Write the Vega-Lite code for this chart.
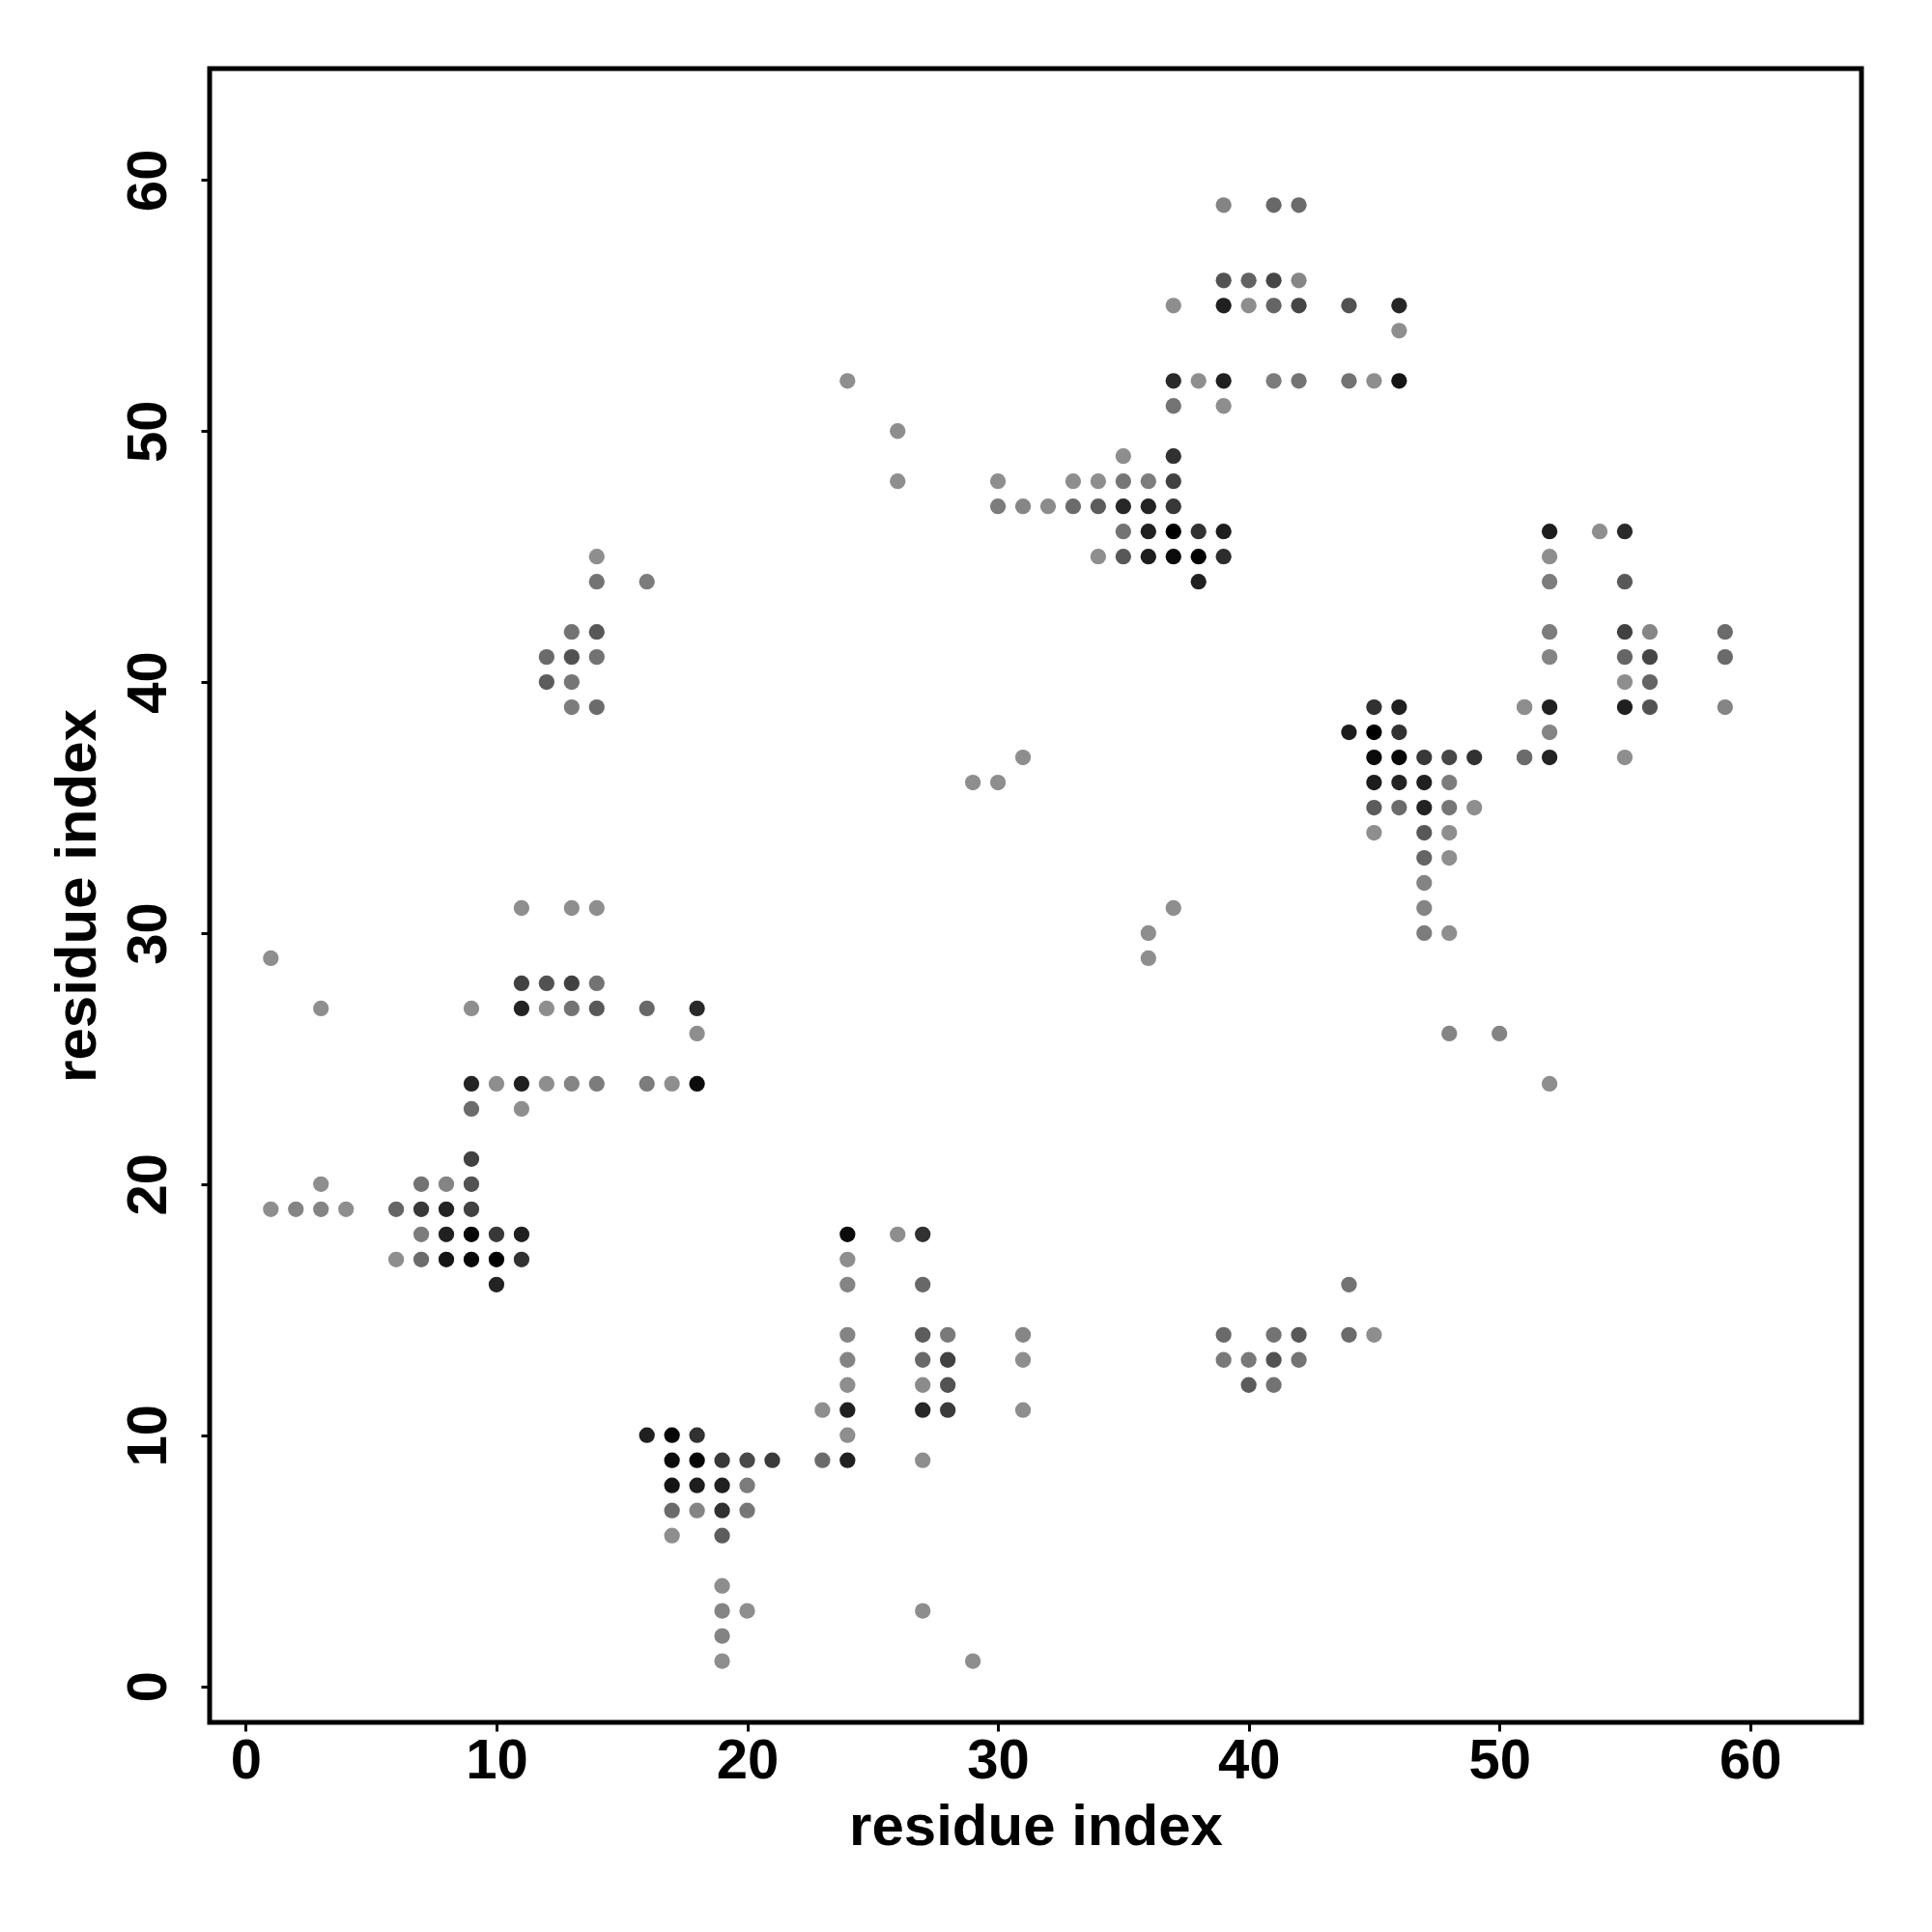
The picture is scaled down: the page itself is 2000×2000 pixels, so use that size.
{
  "$schema": "https://vega.github.io/schema/vega-lite/v6.json",
  "width": 1710,
  "height": 1712,
  "autosize": {"type": "none"},
  "padding": {"left": 217, "top": 71, "right": 73, "bottom": 217},
  "background": "white",
  "config": {
    "view": {"stroke": "black", "strokeWidth": 5},
    "axis": {
      "domain": false, "grid": false,
      "ticks": true, "tickColor": "black", "tickWidth": 3, "tickSize": 9,
      "labelFont": "Liberation Sans", "labelFontWeight": "bold", "labelFontSize": 58, "labelColor": "black",
      "titleFont": "Liberation Sans", "titleFontWeight": "bold", "titleFontSize": 60, "titleColor": "black"
    }
  },
  "data": {"values": [
    {"i":11,"j":31,"p":0.05},{"i":13,"j":31,"p":0.05},{"i":14,"j":31,"p":0.05},
    {"i":1,"j":29,"p":0.05},
    {"i":11,"j":28,"p":0.56},{"i":12,"j":28,"p":0.44},{"i":13,"j":28,"p":0.56},{"i":14,"j":28,"p":0.22},
    {"i":3,"j":27,"p":0.05},{"i":9,"j":27,"p":0.05},{"i":11,"j":27,"p":0.78},{"i":12,"j":27,"p":0.05},{"i":13,"j":27,"p":0.22},{"i":14,"j":27,"p":0.40},{"i":16,"j":27,"p":0.29},{"i":18,"j":27,"p":0.73},
    {"i":18,"j":26,"p":0.05},
    {"i":9,"j":24,"p":0.78},{"i":10,"j":24,"p":0.05},{"i":11,"j":24,"p":0.8},{"i":12,"j":24,"p":0.05},{"i":13,"j":24,"p":0.11},{"i":14,"j":24,"p":0.16},{"i":16,"j":24,"p":0.16},{"i":17,"j":24,"p":0.05},{"i":18,"j":24,"p":0.95},
    {"i":9,"j":23,"p":0.27},{"i":11,"j":23,"p":0.05},
    {"i":9,"j":21,"p":0.56},
    {"i":3,"j":20,"p":0.05},{"i":7,"j":20,"p":0.22},{"i":8,"j":20,"p":0.11},{"i":9,"j":20,"p":0.44},
    {"i":1,"j":19,"p":0.05},{"i":2,"j":19,"p":0.11},{"i":3,"j":19,"p":0.11},{"i":4,"j":19,"p":0.05},{"i":6,"j":19,"p":0.31},{"i":7,"j":19,"p":0.62},{"i":8,"j":19,"p":0.78},{"i":9,"j":19,"p":0.56},
    {"i":7,"j":18,"p":0.16},{"i":8,"j":18,"p":0.8},{"i":9,"j":18,"p":0.97},{"i":10,"j":18,"p":0.62},{"i":11,"j":18,"p":0.8},
    {"i":6,"j":17,"p":0.05},{"i":7,"j":17,"p":0.27},{"i":8,"j":17,"p":0.89},{"i":9,"j":17,"p":0.97},{"i":10,"j":17,"p":1.0},{"i":11,"j":17,"p":0.67},
    {"i":10,"j":16,"p":0.78},
    {"i":14,"j":45,"p":0.05},{"i":14,"j":44,"p":0.22},{"i":16,"j":44,"p":0.16},{"i":13,"j":42,"p":0.22},{"i":14,"j":42,"p":0.40},{"i":12,"j":41,"p":0.27},{"i":13,"j":41,"p":0.44},{"i":14,"j":41,"p":0.22},{"i":12,"j":40,"p":0.37},{"i":13,"j":40,"p":0.2},{"i":13,"j":39,"p":0.16},{"i":14,"j":39,"p":0.27},
    {"i":24,"j":18,"p":0.95},{"i":26,"j":18,"p":0.05},{"i":27,"j":18,"p":0.67},
    {"i":24,"j":17,"p":0.05},
    {"i":24,"j":16,"p":0.11},{"i":27,"j":16,"p":0.29},
    {"i":24,"j":14,"p":0.11},{"i":27,"j":14,"p":0.37},{"i":28,"j":14,"p":0.18},{"i":31,"j":14,"p":0.1},
    {"i":24,"j":13,"p":0.11},{"i":27,"j":13,"p":0.29},{"i":28,"j":13,"p":0.56},{"i":31,"j":13,"p":0.05},
    {"i":24,"j":12,"p":0.05},{"i":27,"j":12,"p":0.07},{"i":28,"j":12,"p":0.44},
    {"i":23,"j":11,"p":0.05},{"i":24,"j":11,"p":0.8},{"i":27,"j":11,"p":0.75},{"i":28,"j":11,"p":0.6},{"i":31,"j":11,"p":0.05},
    {"i":16,"j":10,"p":0.8},{"i":17,"j":10,"p":0.97},{"i":18,"j":10,"p":0.67},{"i":24,"j":10,"p":0.05},
    {"i":17,"j":9,"p":0.95},{"i":18,"j":9,"p":0.97},{"i":19,"j":9,"p":0.62},{"i":20,"j":9,"p":0.5},{"i":21,"j":9,"p":0.6},{"i":23,"j":9,"p":0.27},{"i":24,"j":9,"p":0.8},{"i":27,"j":9,"p":0.05},
    {"i":17,"j":8,"p":0.89},{"i":18,"j":8,"p":0.83},{"i":19,"j":8,"p":0.8},{"i":20,"j":8,"p":0.16},
    {"i":17,"j":7,"p":0.27},{"i":18,"j":7,"p":0.11},{"i":19,"j":7,"p":0.67},{"i":20,"j":7,"p":0.2},
    {"i":17,"j":6,"p":0.05},{"i":19,"j":6,"p":0.37},
    {"i":19,"j":4,"p":0.05},
    {"i":19,"j":3,"p":0.11},{"i":20,"j":3,"p":0.05},{"i":27,"j":3,"p":0.05},
    {"i":19,"j":2,"p":0.11},
    {"i":19,"j":1,"p":0.05},{"i":29,"j":1,"p":0.05},
    {"i":24,"j":52,"p":0.05},
    {"i":26,"j":50,"p":0.05},
    {"i":35,"j":49,"p":0.05},{"i":37,"j":49,"p":0.67},
    {"i":26,"j":48,"p":0.05},{"i":30,"j":48,"p":0.05},{"i":33,"j":48,"p":0.05},{"i":34,"j":48,"p":0.05},{"i":35,"j":48,"p":0.2},{"i":36,"j":48,"p":0.16},{"i":37,"j":48,"p":0.56},
    {"i":30,"j":47,"p":0.16},{"i":31,"j":47,"p":0.1},{"i":32,"j":47,"p":0.07},{"i":33,"j":47,"p":0.27},{"i":34,"j":47,"p":0.37},{"i":35,"j":47,"p":0.75},{"i":36,"j":47,"p":0.78},{"i":37,"j":47,"p":0.62},
    {"i":35,"j":46,"p":0.22},{"i":36,"j":46,"p":0.8},{"i":37,"j":46,"p":1.0},{"i":38,"j":46,"p":0.67},{"i":39,"j":46,"p":0.83},
    {"i":34,"j":45,"p":0.05},{"i":35,"j":45,"p":0.4},{"i":36,"j":45,"p":0.83},{"i":37,"j":45,"p":0.95},{"i":38,"j":45,"p":1.0},{"i":39,"j":45,"p":0.7},
    {"i":38,"j":44,"p":0.8},
    {"i":39,"j":59,"p":0.11},{"i":41,"j":59,"p":0.29},{"i":42,"j":59,"p":0.27},
    {"i":39,"j":56,"p":0.44},{"i":40,"j":56,"p":0.33},{"i":41,"j":56,"p":0.52},{"i":42,"j":56,"p":0.1},
    {"i":37,"j":55,"p":0.05},{"i":39,"j":55,"p":0.8},{"i":40,"j":55,"p":0.05},{"i":41,"j":55,"p":0.31},{"i":42,"j":55,"p":0.52},{"i":44,"j":55,"p":0.44},{"i":46,"j":55,"p":0.75},
    {"i":46,"j":54,"p":0.05},
    {"i":37,"j":52,"p":0.73},{"i":38,"j":52,"p":0.05},{"i":39,"j":52,"p":0.8},{"i":41,"j":52,"p":0.16},{"i":42,"j":52,"p":0.22},{"i":44,"j":52,"p":0.22},{"i":45,"j":52,"p":0.05},{"i":46,"j":52,"p":0.89},
    {"i":37,"j":51,"p":0.22},{"i":39,"j":51,"p":0.05},
    {"i":31,"j":37,"p":0.05},{"i":29,"j":36,"p":0.05},{"i":30,"j":36,"p":0.05},{"i":37,"j":31,"p":0.05},{"i":36,"j":30,"p":0.05},{"i":36,"j":29,"p":0.05},
    {"i":45,"j":39,"p":0.67},{"i":46,"j":39,"p":0.8},{"i":51,"j":39,"p":0.05},
    {"i":44,"j":38,"p":0.83},{"i":45,"j":38,"p":1.0},{"i":46,"j":38,"p":0.67},
    {"i":45,"j":37,"p":0.95},{"i":46,"j":37,"p":0.97},{"i":47,"j":37,"p":0.62},{"i":48,"j":37,"p":0.52},{"i":49,"j":37,"p":0.67},{"i":51,"j":37,"p":0.27},
    {"i":45,"j":36,"p":0.83},{"i":46,"j":36,"p":0.78},{"i":47,"j":36,"p":0.8},{"i":48,"j":36,"p":0.16},
    {"i":45,"j":35,"p":0.37},{"i":46,"j":35,"p":0.27},{"i":47,"j":35,"p":0.78},{"i":48,"j":35,"p":0.2},{"i":49,"j":35,"p":0.05},
    {"i":45,"j":34,"p":0.05},{"i":47,"j":34,"p":0.4},{"i":48,"j":34,"p":0.05},
    {"i":47,"j":33,"p":0.31},{"i":48,"j":33,"p":0.05},
    {"i":47,"j":32,"p":0.11},
    {"i":47,"j":31,"p":0.11},
    {"i":47,"j":30,"p":0.16},{"i":48,"j":30,"p":0.05},
    {"i":48,"j":26,"p":0.11},{"i":50,"j":26,"p":0.11},
    {"i":52,"j":24,"p":0.05},
    {"i":52,"j":46,"p":0.83},{"i":54,"j":46,"p":0.05},{"i":55,"j":46,"p":0.73},
    {"i":52,"j":45,"p":0.05},
    {"i":52,"j":44,"p":0.16},{"i":55,"j":44,"p":0.4},
    {"i":52,"j":42,"p":0.16},{"i":55,"j":42,"p":0.56},{"i":56,"j":42,"p":0.1},{"i":59,"j":42,"p":0.27},
    {"i":52,"j":41,"p":0.11},{"i":55,"j":41,"p":0.31},{"i":56,"j":41,"p":0.52},{"i":59,"j":41,"p":0.28},
    {"i":55,"j":40,"p":0.05},{"i":56,"j":40,"p":0.31},
    {"i":51,"j":39,"p":0.05},{"i":52,"j":39,"p":0.8},{"i":55,"j":39,"p":0.8},{"i":56,"j":39,"p":0.44},{"i":59,"j":39,"p":0.11},
    {"i":52,"j":38,"p":0.11},
    {"i":51,"j":37,"p":0.27},{"i":52,"j":37,"p":0.78},{"i":55,"j":37,"p":0.05},
    {"i":44,"j":16,"p":0.22},
    {"i":39,"j":14,"p":0.28},{"i":41,"j":14,"p":0.22},{"i":42,"j":14,"p":0.4},{"i":44,"j":14,"p":0.27},{"i":45,"j":14,"p":0.05},
    {"i":39,"j":13,"p":0.18},{"i":40,"j":13,"p":0.18},{"i":41,"j":13,"p":0.44},{"i":42,"j":13,"p":0.22},
    {"i":40,"j":12,"p":0.37},{"i":41,"j":12,"p":0.22}
  ]},
  "mark": {"type": "circle", "size": 265, "opacity": 1, "strokeWidth": 0},
  "encoding": {
    "x": {
      "field": "i", "type": "quantitative",
      "scale": {"domain": [-1.44, 64.44], "nice": false, "zero": false},
      "axis": {"values": [0, 10, 20, 30, 40, 50, 60], "title": "residue index", "labelPadding": 2, "titleBaseline": "alphabetic", "titleY": 126}
    },
    "y": {
      "field": "j", "type": "quantitative",
      "scale": {"domain": [-1.44, 64.44], "nice": false, "zero": false},
      "axis": {"values": [0, 10, 20, 30, 40, 50, 60], "title": "residue index", "labelAngle": -90, "labelAlign": "center", "labelBaseline": "alphabetic", "labelPadding": 37, "titleBaseline": "alphabetic", "titleX": -119, "titleAngle": -90}
    },
    "color": {
      "field": "p", "type": "quantitative",
      "scale": {"domain": [0, 1], "range": ["#969696", "#000000"]},
      "legend": null
    }
  }
}
